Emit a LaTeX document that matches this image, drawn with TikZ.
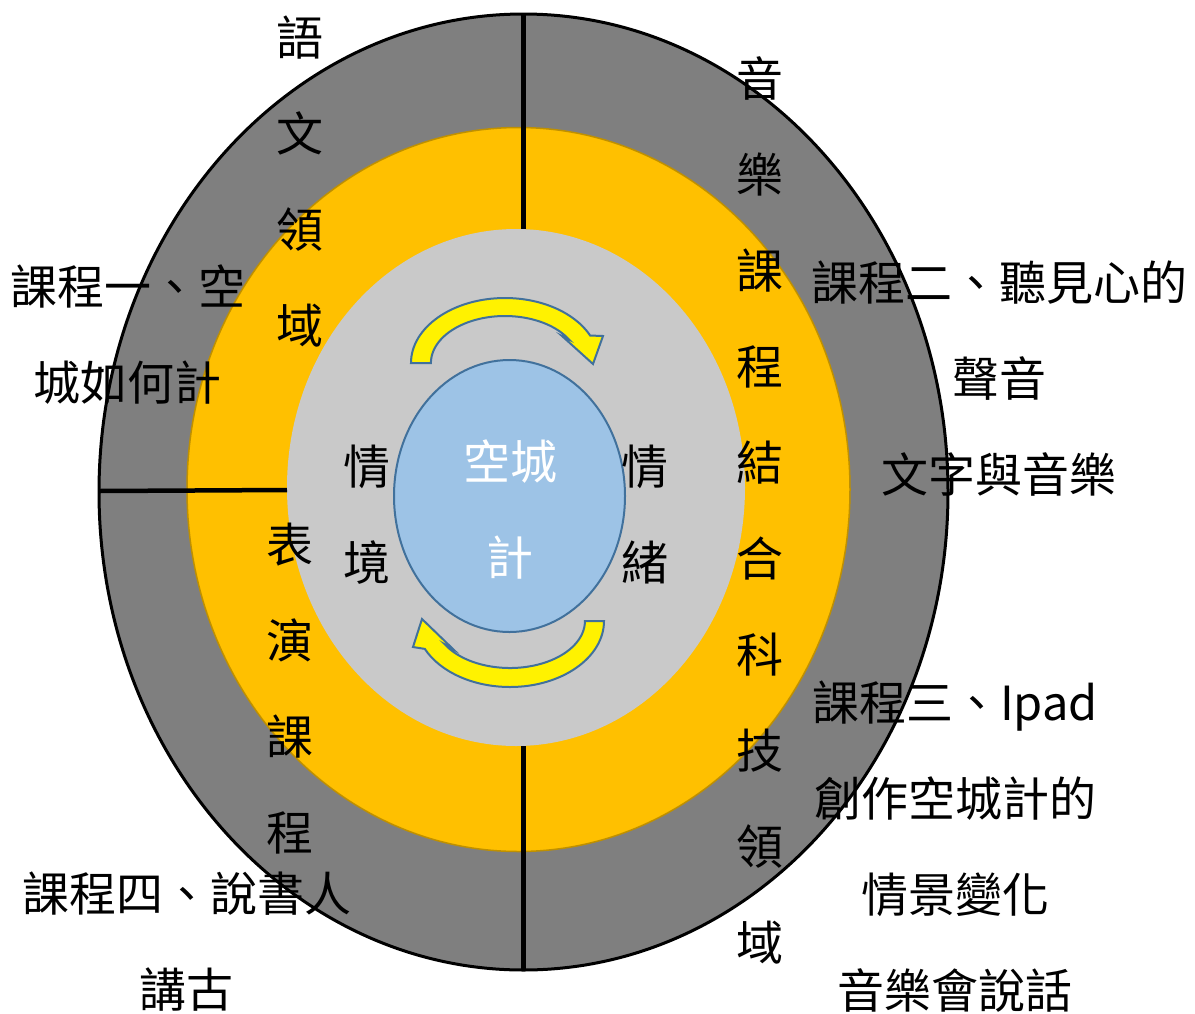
\documentclass[tikz,border=0pt]{standalone}
\usepackage{fontspec}
\newfontfamily\cjk{Noto Sans CJK TC}
\begin{document}
\begin{tikzpicture}[x=1pt,y=-1pt,
  txt/.style={font=\cjk\fontsize{47}{96}\selectfont, align=center, inner sep=0pt, text=black},
  ring/.style={line width=3pt},
  divider/.style={line width=4.5pt, draw=black},
  turnarrow/.style={fill=yellow, draw=arrowedge, line width=2pt, line join=miter}
]
\definecolor{outergray}{HTML}{7F7F7F}
\definecolor{ringorange}{HTML}{FFC000}
\definecolor{orangeedge}{HTML}{BF9000}
\definecolor{innergray}{HTML}{C9C9C9}
\definecolor{coreblue}{HTML}{9DC3E6}
\definecolor{arrowedge}{HTML}{41719C}
\useasboundingbox (0,0) rectangle (1195,1013);

% rings
\draw[fill=outergray, draw=black, ring] (523.5,492) ellipse [x radius=424.5, y radius=478];
\draw[fill=ringorange, draw=orangeedge, line width=1.5pt] (518.5,489.5) ellipse [x radius=331.5, y radius=362];
\fill[innergray] (516,487.5) ellipse [x radius=229, y radius=258.5];

% dividers
\coordinate (topA) at (523.5,14);
\coordinate (topB) at (523.5,229);
\coordinate (botA) at (523.5,746);
\coordinate (botB) at (523.5,970);
\coordinate (leftA) at (99,491);
\coordinate (leftB) at (287,490);
\draw[divider] (topA) -- (topB);
\draw[divider] (botA) -- (botB);
\draw[divider] (leftA) -- (leftB);

% core
\draw[fill=coreblue, draw=arrowedge, line width=2pt] (509.5,496) ellipse [x radius=115.5, y radius=136];

% curved arrows
\draw[turnarrow] (411,363) arc[start angle=180, end angle=335, x radius=94, y radius=65]
  -- (603,336) -- (593,364) -- (562,336) -- (569,339.5)
  arc[start angle=330, end angle=180, x radius=74, y radius=47] -- cycle;
\draw[turnarrow] (604,621) arc[start angle=0, end angle=155, x radius=94, y radius=66]
  -- (413,647) -- (422,619) -- (453,649) -- (445,644.5)
  arc[start angle=150, end angle=0, x radius=75, y radius=47] -- cycle;

% texts
\node[txt] (yuwen) at (300,181.5) {語\\文\\領\\域};
\node[txt] (c1) at (128,335) {課程一、空\\城如何計};
\node[txt] (music) at (760,510) {音\\樂\\課\\程\\結\\合\\科\\技\\領\\域};
\node[txt] (c2) at (999,378.5) {課程二、聽見心的\\聲音\\文字與音樂};
\node[txt] (c3) at (955,846.5) {課程三、Ipad\\創作空城計的\\情景變化\\音樂會說話};
\node[txt] (perf) at (290,688.5) {表\\演\\課\\程};
\node[txt] (c4) at (187,941.5) {課程四、說書人\\講古};
\node[txt] (qj) at (367,514.5) {情\\境};
\node[txt] (qx) at (645,514.5) {情\\緒};
\node[txt, text=white] (core) at (510,509.5) {空城\\計};
\end{tikzpicture}
\end{document}
